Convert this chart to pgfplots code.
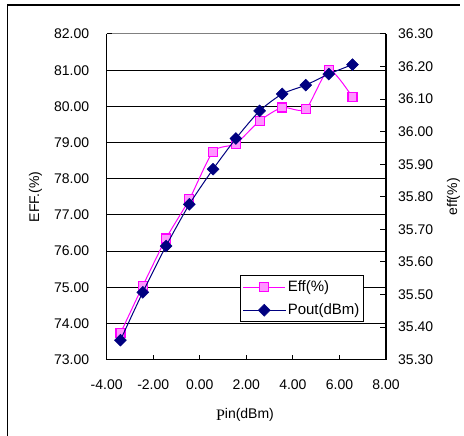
\documentclass[border=0pt]{standalone}
\usepackage{fontspec}
\setmainfont{Liberation Sans}
\newfontfamily\serifP{Liberation Serif}
\usepackage{pgfplots}
\pgfplotsset{compat=1.18}
\definecolor{effc}{RGB}{255,0,255}
\definecolor{efffill}{RGB}{255,150,255}
\definecolor{poutc}{RGB}{0,0,128}
\pgfplotstableread{
x eff
-3.41 73.73
-2.45 75.04
-1.45 76.35
-0.45 77.43
0.57 78.75
1.55 78.97
2.57 79.60
3.54 79.97
4.55 79.92
5.54 81.01
6.56 80.25
}\efftable
\pgfplotstableread{
x pout
-3.41 35.360
-2.45 35.507
-1.45 35.649
-0.45 35.777
0.57 35.885
1.55 35.979
2.57 36.064
3.54 36.116
4.55 36.143
5.54 36.177
6.56 36.206
}\pouttable
\begin{document}
\fontsize{14bp}{16.8bp}\selectfont
\begin{tikzpicture}[x=1bp,y=1bp]
\useasboundingbox (0,0) rectangle (464,436);
\draw[line width=1.2bp] (7.5,0) -- (7.5,431) -- (460,431);
\pgfplotsset{
  common/.style={
    at={(106.7bp,76.3bp)}, anchor=south west,
    scale only axis, width=279.3bp, height=325.7bp,
    xmin=-4, xmax=8,
    /pgf/number format/assume math mode=true,
    /pgf/number format/.cd, fixed, fixed zerofill, precision=2, /pgfplots/.cd,
    tick label style={font=\fontsize{14bp}{16.8bp}\selectfont},
    tick align=inside,
    axis line style={line width=1.5bp, black},
    major tick style={line width=1bp, black},
    major tick length=5bp,
  },
  effstyle/.style={color=effc, line width=1bp, smooth, tension=0.4, mark=square*, mark size=4.5bp, mark options={fill=efffill, draw=effc, line width=1.2bp}},
  poutstyle/.style={color=poutc, line width=1bp, smooth, tension=0.4, mark=square*, mark size=4.2bp, mark options={rotate=45, fill=poutc, draw=poutc, line width=0.5bp}},
}
\begin{axis}[common,
  axis x line*=bottom, axis y line*=left,
  ymin=73, ymax=82,
  xtick={-4,-2,0,2,4,6,8},
  ytick={73,74,75,76,77,78,79,80,81},
  extra y ticks={82}, extra y tick style={grid style={line width=1bp, gray}},
  ymajorgrids, grid style={line width=1bp, black},
  xticklabel style={yshift=-15bp},
  yticklabel style={xshift=-12.7bp},
  ylabel={EFF.(\%)},
  ylabel style={at={(rel axis cs:-0.255,0.5)}, anchor=center, font=\fontsize{14bp}{16.8bp}\selectfont},
  xlabel={{\serifP\fontsize{16bp}{16bp}\selectfont P}\raisebox{2bp}{in(dBm)}},
  xlabel style={at={(rel axis cs:0.495,-0.170)}, anchor=center, font=\fontsize{14bp}{16.8bp}\selectfont},
]
\addplot[effstyle] table[x=x,y=eff] {\efftable};
\end{axis}
\begin{axis}[common,
  axis x line=none, axis y line*=right,
  ymin=35.3, ymax=36.3,
  ytick={35.3,35.4,35.5,35.6,35.7,35.8,35.9,36.0,36.1,36.2,36.3},
  major tick length=6bp,
  yticklabel style={xshift=7.3bp},
  ylabel={eff(\%)},
  ylabel style={at={(rel axis cs:1.2417,0.5)}, anchor=center, font=\fontsize{14bp}{16.8bp}\selectfont},
  legend style={at={(0.921,0.115)}, anchor=south east, draw=black, line width=1bp,
    font=\fontsize{15bp}{18bp}\selectfont, inner xsep=2bp, inner ysep=3bp, row sep=6bp,
    cells={anchor=west}},
  legend image code/.code={
    \draw[#1, mark repeat=2, mark phase=2] plot coordinates {(0bp,0bp) (21bp,0bp) (42bp,0bp)};
  },
]
\addlegendimage{effstyle, sharp plot}
\addlegendentry{Eff(\%)}
\addplot[poutstyle] table[x=x,y=pout] {\pouttable};
\addlegendentry{Pout(dBm)}
\end{axis}
\end{tikzpicture}
\end{document}
